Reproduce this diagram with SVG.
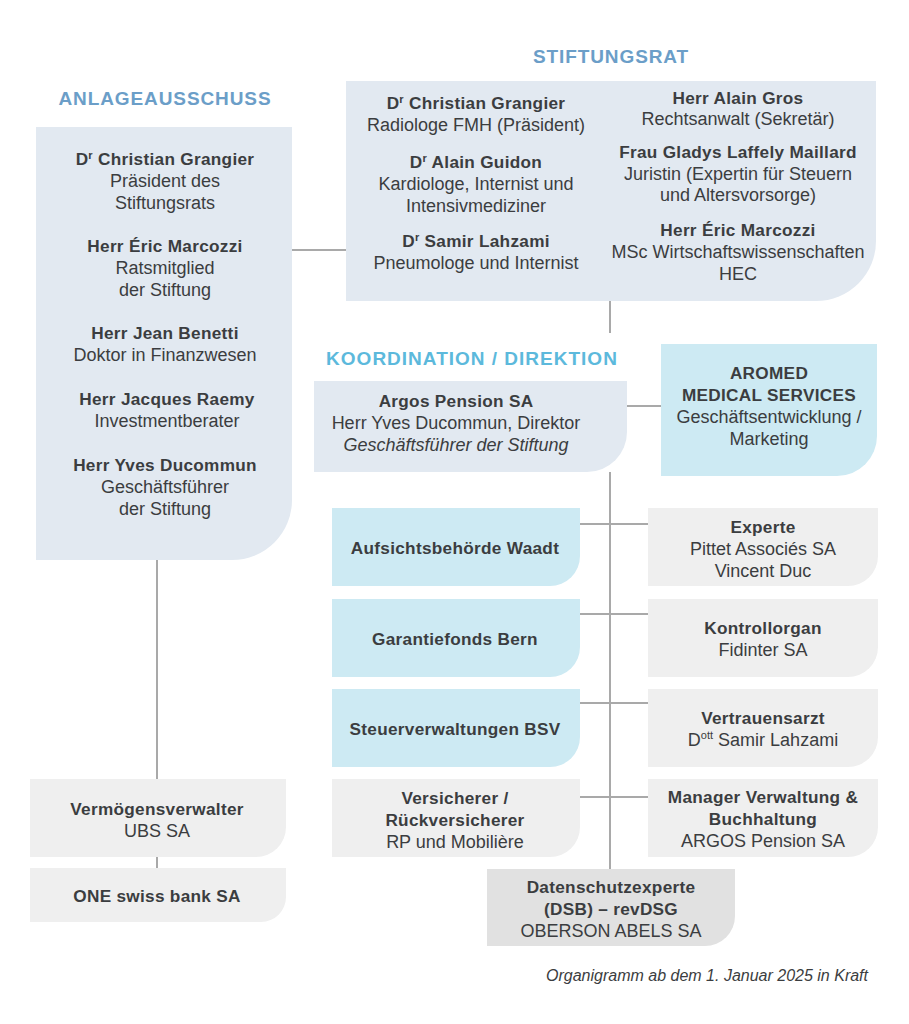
<svg xmlns="http://www.w3.org/2000/svg" width="909" height="1024" viewBox="0 0 909 1024">
<style>
text{font-family:"Liberation Sans",Arial,sans-serif;fill:#3b3d40;text-anchor:middle;font-size:18px}
.b{font-weight:bold;font-size:17.2px;letter-spacing:0.3px}
.i{font-style:italic}
.h1{font-weight:bold;font-size:19px;letter-spacing:0.9px;fill:#6b9ec8}
.h2{font-weight:bold;font-size:19px;letter-spacing:1px;fill:#5cb9dc}
.sb{fill:#e2e9f1}
.cy{fill:#cdeaf3}
.gr{fill:#efefef}
.dg{fill:#e1e1e1}
.ln{stroke:#a9a9a9;stroke-width:2;fill:none}
.foot{font-style:italic;font-size:16px;text-anchor:end}
</style>
<rect width="909" height="1024" fill="#ffffff"/>

<g id="connectors">
<path class="ln" d="M292 250H346"/>
<path class="ln" d="M610 301V333"/>
<path class="ln" d="M627 406H661"/>
<path class="ln" d="M610 472V869"/>
<path class="ln" d="M580 524H648"/>
<path class="ln" d="M580 614H648"/>
<path class="ln" d="M580 703H648"/>
<path class="ln" d="M580 797H648"/>
<path class="ln" d="M157 560V779"/>
<path class="ln" d="M157 857V868"/>
</g>

<g id="anlageausschuss">
<text class="h1" x="165" y="105">ANLAGEAUSSCHUSS</text>
<path class="sb" d="M36 127H292V500A60 60 0 0 1 232 560H36Z"/>
<text class="b" x="165" y="165">D<tspan font-size="11" dy="-6">r</tspan><tspan dy="6"> Christian Grangier</tspan></text>
<text x="165" y="187">Präsident des</text>
<text x="165" y="209">Stiftungsrats</text>
<text class="b" x="165" y="252">Herr Éric Marcozzi</text>
<text x="165" y="274">Ratsmitglied</text>
<text x="165" y="296">der Stiftung</text>
<text class="b" x="165" y="339">Herr Jean Benetti</text>
<text x="165" y="361">Doktor in Finanzwesen</text>
<text class="b" x="167" y="405">Herr Jacques Raemy</text>
<text x="167" y="427">Investmentberater</text>
<text class="b" x="165" y="471">Herr Yves Ducommun</text>
<text x="165" y="493">Geschäftsführer</text>
<text x="165" y="515">der Stiftung</text>
</g>

<g id="stiftungsrat">
<text class="h1" x="611" y="63">STIFTUNGSRAT</text>
<path class="sb" d="M346 81H876V241A60 60 0 0 1 816 301H346Z"/>
<text class="b" x="476" y="109">D<tspan font-size="11" dy="-6">r</tspan><tspan dy="6"> Christian Grangier</tspan></text>
<text x="476" y="131">Radiologe FMH (Präsident)</text>
<text class="b" x="476" y="168">D<tspan font-size="11" dy="-6">r</tspan><tspan dy="6"> Alain Guidon</tspan></text>
<text x="476" y="190">Kardiologe, Internist und</text>
<text x="476" y="212">Intensivmediziner</text>
<text class="b" x="476" y="247">D<tspan font-size="11" dy="-6">r</tspan><tspan dy="6"> Samir Lahzami</tspan></text>
<text x="476" y="269">Pneumologe und Internist</text>
<text class="b" x="738" y="104">Herr Alain Gros</text>
<text x="738" y="125">Rechtsanwalt (Sekretär)</text>
<text class="b" x="738" y="158">Frau Gladys Laffely Maillard</text>
<text x="738" y="180">Juristin (Expertin für Steuern</text>
<text x="738" y="201">und Altersvorsorge)</text>
<text class="b" x="738" y="236">Herr Éric Marcozzi</text>
<text x="738" y="258">MSc Wirtschaftswissenschaften</text>
<text x="738" y="280">HEC</text>
</g>

<g id="argos">
<text class="h2" x="472" y="365">KOORDINATION / DIREKTION</text>
<path class="sb" d="M314 381H627V432A40 40 0 0 1 587 472H314Z"/>
<text class="b" x="456" y="407">Argos Pension SA</text>
<text x="456" y="429">Herr Yves Ducommun, Direktor</text>
<text class="i" x="456" y="451">Geschäftsführer der Stiftung</text>
</g>

<g id="aromed">
<path class="cy" d="M661 344H877V436A40 40 0 0 1 837 476H661Z"/>
<text class="b" x="769" y="379">AROMED</text>
<text class="b" x="769" y="401">MEDICAL SERVICES</text>
<text x="769" y="423">Geschäftsentwicklung /</text>
<text x="769" y="445">Marketing</text>
</g>

<g id="aufsicht">
<path class="cy" d="M332 508H580V556A30 30 0 0 1 550 586H332Z"/>
<text class="b" x="455" y="554">Aufsichtsbehörde Waadt</text>
</g>

<g id="experte">
<path class="gr" d="M648 508H878V556A30 30 0 0 1 848 586H648Z"/>
<text class="b" x="763" y="533">Experte</text>
<text x="763" y="555">Pittet Associés SA</text>
<text x="763" y="577">Vincent Duc</text>
</g>

<g id="garantiefonds">
<path class="cy" d="M332 599H580V647A30 30 0 0 1 550 677H332Z"/>
<text class="b" x="455" y="645">Garantiefonds Bern</text>
</g>

<g id="kontrollorgan">
<path class="gr" d="M648 599H878V647A30 30 0 0 1 848 677H648Z"/>
<text class="b" x="763" y="634">Kontrollorgan</text>
<text x="763" y="656">Fidinter SA</text>
</g>

<g id="steuer">
<path class="cy" d="M332 689H580V737A30 30 0 0 1 550 767H332Z"/>
<text class="b" x="455" y="735">Steuerverwaltungen BSV</text>
</g>

<g id="vertrauensarzt">
<path class="gr" d="M648 689H878V737A30 30 0 0 1 848 767H648Z"/>
<text class="b" x="763" y="724">Vertrauensarzt</text>
<text x="763" y="746">D<tspan font-size="11" dy="-7">ott</tspan><tspan dy="7"> Samir Lahzami</tspan></text>
</g>

<g id="versicherer">
<path class="gr" d="M332 779H580V827A30 30 0 0 1 550 857H332Z"/>
<text class="b" x="455" y="804">Versicherer /</text>
<text class="b" x="455" y="826">Rückversicherer</text>
<text x="455" y="848">RP und Mobilière</text>
</g>

<g id="manager">
<path class="gr" d="M648 779H878V827A30 30 0 0 1 848 857H648Z"/>
<text class="b" x="763" y="803">Manager Verwaltung &amp;</text>
<text class="b" x="763" y="825">Buchhaltung</text>
<text x="763" y="847">ARGOS Pension SA</text>
</g>

<g id="datenschutz">
<path class="dg" d="M487 869H735V916A30 30 0 0 1 705 946H487Z"/>
<text class="b" x="611" y="893">Datenschutzexperte</text>
<text class="b" x="611" y="915">(DSB) – revDSG</text>
<text x="611" y="937">OBERSON ABELS SA</text>
</g>

<g id="vermoegensverwalter">
<path class="gr" d="M30 779H286V827A30 30 0 0 1 256 857H30Z"/>
<text class="b" x="157" y="815">Vermögensverwalter</text>
<text x="157" y="837">UBS SA</text>
</g>

<g id="onebank">
<path class="gr" d="M30 868H286V897A25 25 0 0 1 261 922H30Z"/>
<text class="b" x="157" y="902">ONE swiss bank SA</text>
</g>

<text class="foot" x="868" y="981">Organigramm ab dem 1. Januar 2025 in Kraft</text>
</svg>
